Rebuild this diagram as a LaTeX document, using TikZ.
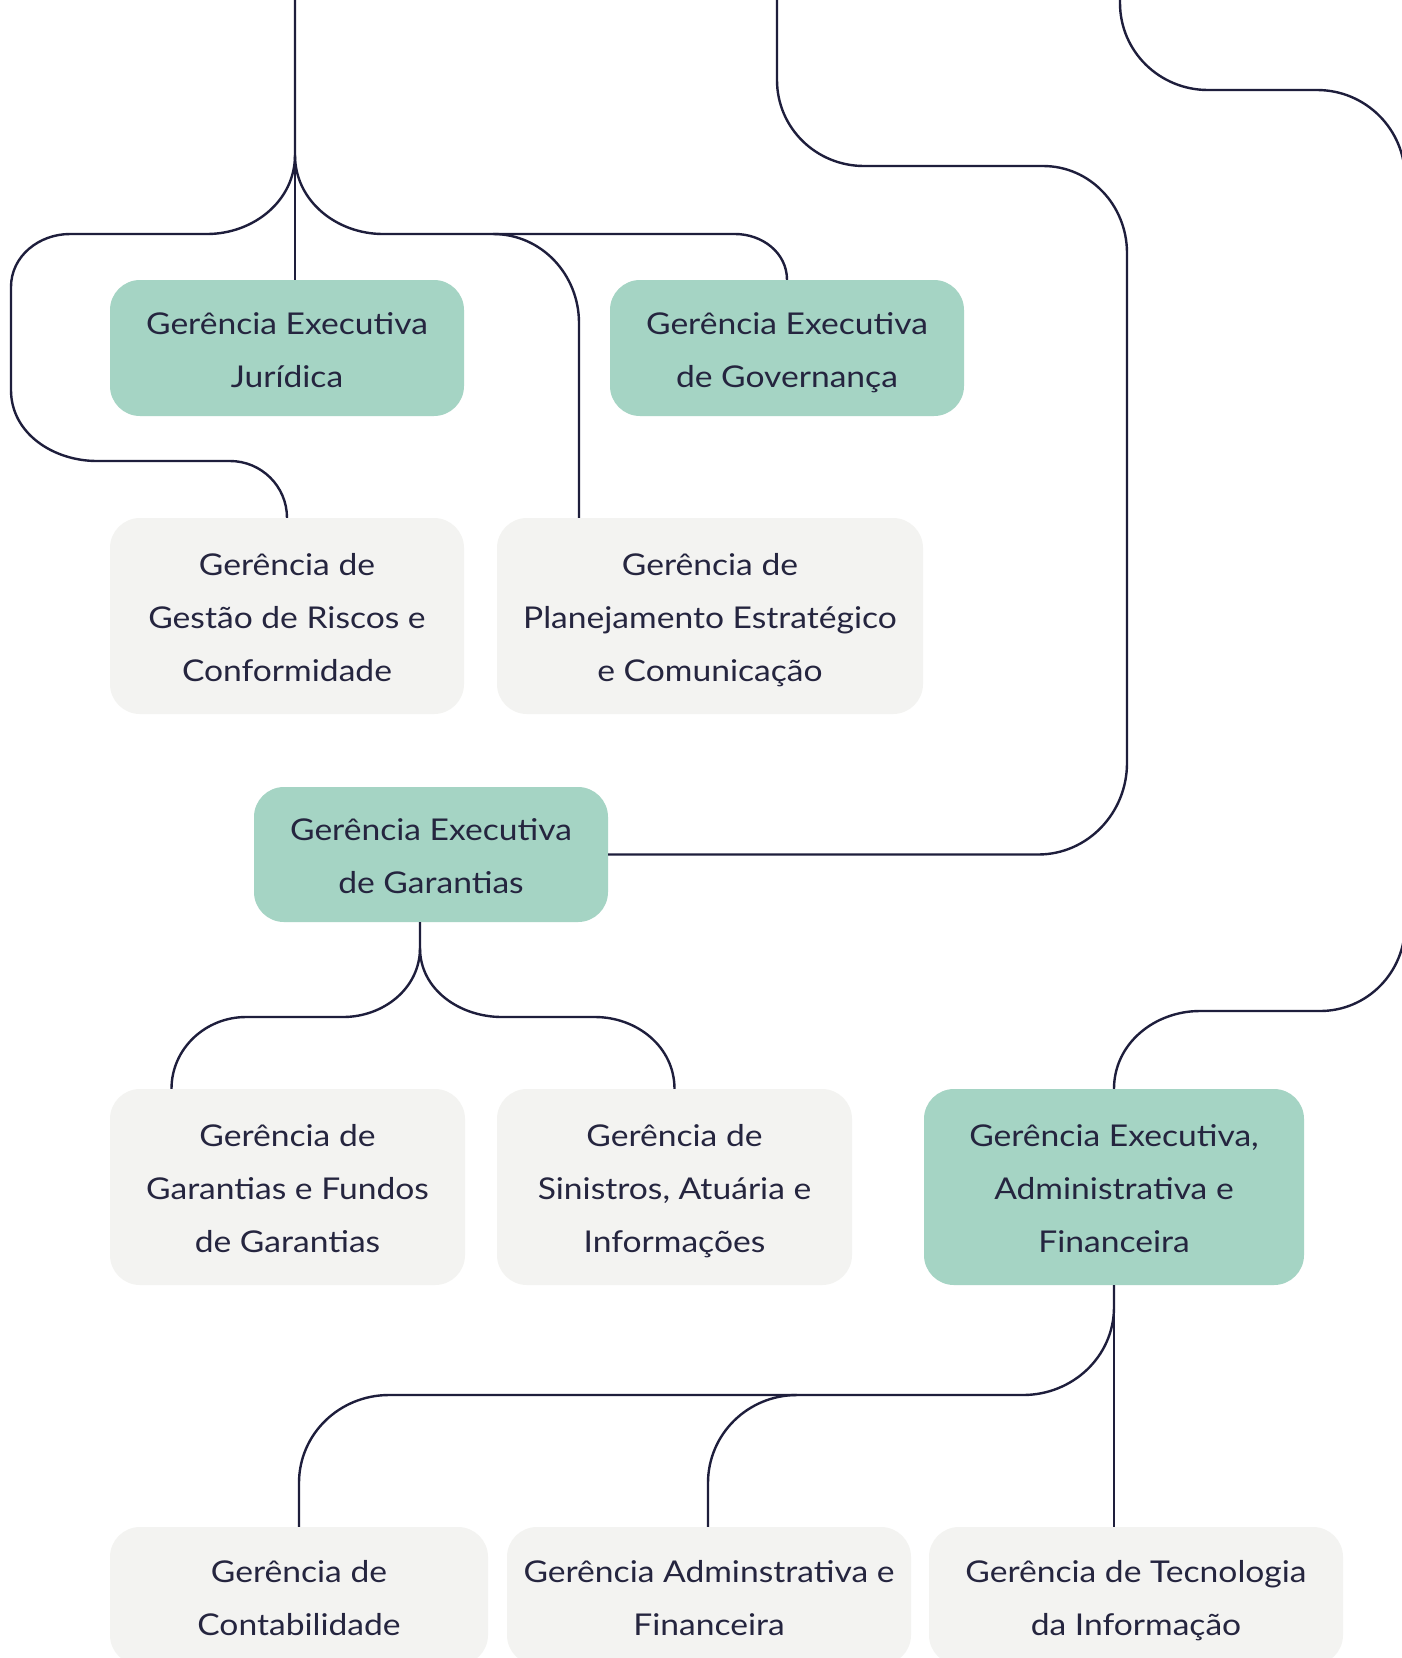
\documentclass[tikz,border=0pt]{standalone}
\usepackage{fontspec}
\setmainfont{Lato}[FakeStretch=1.12]
\usetikzlibrary{calc}
\definecolor{linec}{HTML}{1E1E3C}
\definecolor{textc}{HTML}{25253F}
\definecolor{greenf}{HTML}{A5D4C4}
\definecolor{greyf}{HTML}{F3F3F1}
\newcommand{\tpst}{\rule{0pt}{32pt}}
\newcommand{\btst}{\rule[-7pt]{0pt}{7pt}}
\tikzset{
  box/.style={rounded corners=30pt, inner sep=0pt, align=center, text=textc,
    font=\fontsize{30}{53}\selectfont},
  exec/.style={box, fill=greenf},
  unit/.style={box, fill=greyf},
  conn/.style={draw=linec, line width=2.4pt},
}
\begin{document}
\begin{tikzpicture}[x=1pt,y=1pt]
\useasboundingbox (0,0) rectangle (1402,-1658);
\clip (0,0) rectangle (1402,-1658);
\fill[white] (0,0) rectangle (1402,-1658);

% nodes
\node[exec, minimum width=354pt, minimum height=136pt] (jur) at (287,-348) {\tpst Gerência Executiva\\Jurídica\btst};
\node[exec, minimum width=354pt, minimum height=136pt] (gov) at (787,-348) {\tpst Gerência Executiva\\de Governança\btst};
\node[unit, minimum width=354pt, minimum height=196pt] (gest) at (287,-616) {\tpst Gerência de\\Gestão de Riscos e\\Conformidade\btst};
\node[unit, minimum width=426pt, minimum height=196pt] (plan) at (710,-616) {\tpst Gerência de\\Planejamento Estratégico\\e Comunicação\btst};
\node[exec, minimum width=354pt, minimum height=135pt] (gar) at (431,-854.5) {\tpst Gerência Executiva\\de Garantias\btst};
\node[unit, minimum width=355pt, minimum height=196pt] (fund) at (287.5,-1187) {\tpst Gerência de\\Garantias e Fundos\\de Garantias\btst};
\node[unit, minimum width=355pt, minimum height=196pt] (sin) at (674.5,-1187) {\tpst Gerência de\\Sinistros, Atuária e\\Informações\btst};
\node[exec, minimum width=380pt, minimum height=196pt] (adm) at (1114,-1187) {\tpst Gerência Executiva,\\Administrativa e\\Financeira\btst};
\node[unit, minimum width=378pt, minimum height=138pt] (cont) at (299,-1596) {\tpst Gerência de\\Contabilidade\btst};
\node[unit, minimum width=404pt, minimum height=138pt] (admf) at (709,-1596) {\tpst Gerência Adminstrativa e\\Financeira\btst};
\node[unit, minimum width=414pt, minimum height=138pt] (ti) at (1136,-1596) {\tpst Gerência de Tecnologia\\da Informação\btst};

% free ends
\coordinate (t0) at (295,10);
\coordinate (t1) at (777,10);
\coordinate (t2) at (1120,10);

% connectors
\draw[conn] (t0) -- (t0 |- jur.north);
\draw[conn] (t0) -- (295,-155) to[out=-90,in=0] (207,-234) -- (70,-234)
  to[out=180,in=90] (11,-287) -- (11,-390) to[out=-90,in=180] (97,-461)
  -- (230,-461) to[out=0,in=90] (gest.north);
\draw[conn] (295,-155) to[out=-90,in=180] (383,-234) -- (735,-234)
  to[out=0,in=90] (gov.north);
\draw[conn] (493,-234) to[out=0,in=90] (579,-323) -- ([xshift=-131pt]plan.north);
\draw[conn] (t1) -- (777,-80) to[out=-90,in=180] (864,-166) -- (1043,-166)
  to[out=0,in=90] (1127,-253) -- (1127,-763) to[out=-90,in=0] (1038,-854.5)
  -- (gar.east);
\draw[conn] (t2) -- (1120,-3) to[out=-90,in=180] (1208,-90) -- (1317,-90)
  to[out=0,in=90] (1405,-178) -- (1405,-925) to[out=-90,in=0] (1320,-1011)
  -- (1200,-1011) to[out=180,in=90] (adm.north);
\coordinate (gs) at ([xshift=-11pt]gar.south);
\draw[conn] (gs) -- (420,-948) to[out=-90,in=0] (343,-1017) -- (246,-1017)
  to[out=180,in=90] ([xshift=-116pt]fund.north);
\draw[conn] (420,-948) to[out=-90,in=180] (502,-1017) -- (595,-1017)
  to[out=0,in=90] (sin.north);
\draw[conn] (adm.south) -- (adm.south |- ti.north);
\draw[conn] (adm.south) -- (1114,-1307) to[out=-90,in=0] (1023,-1395)
  -- (389,-1395) to[out=180,in=90] (299,-1483) -- (cont.north);
\draw[conn] (797,-1395) to[out=180,in=90] (708,-1483) -- (admf.north -| 708,0);
\end{tikzpicture}
\end{document}
